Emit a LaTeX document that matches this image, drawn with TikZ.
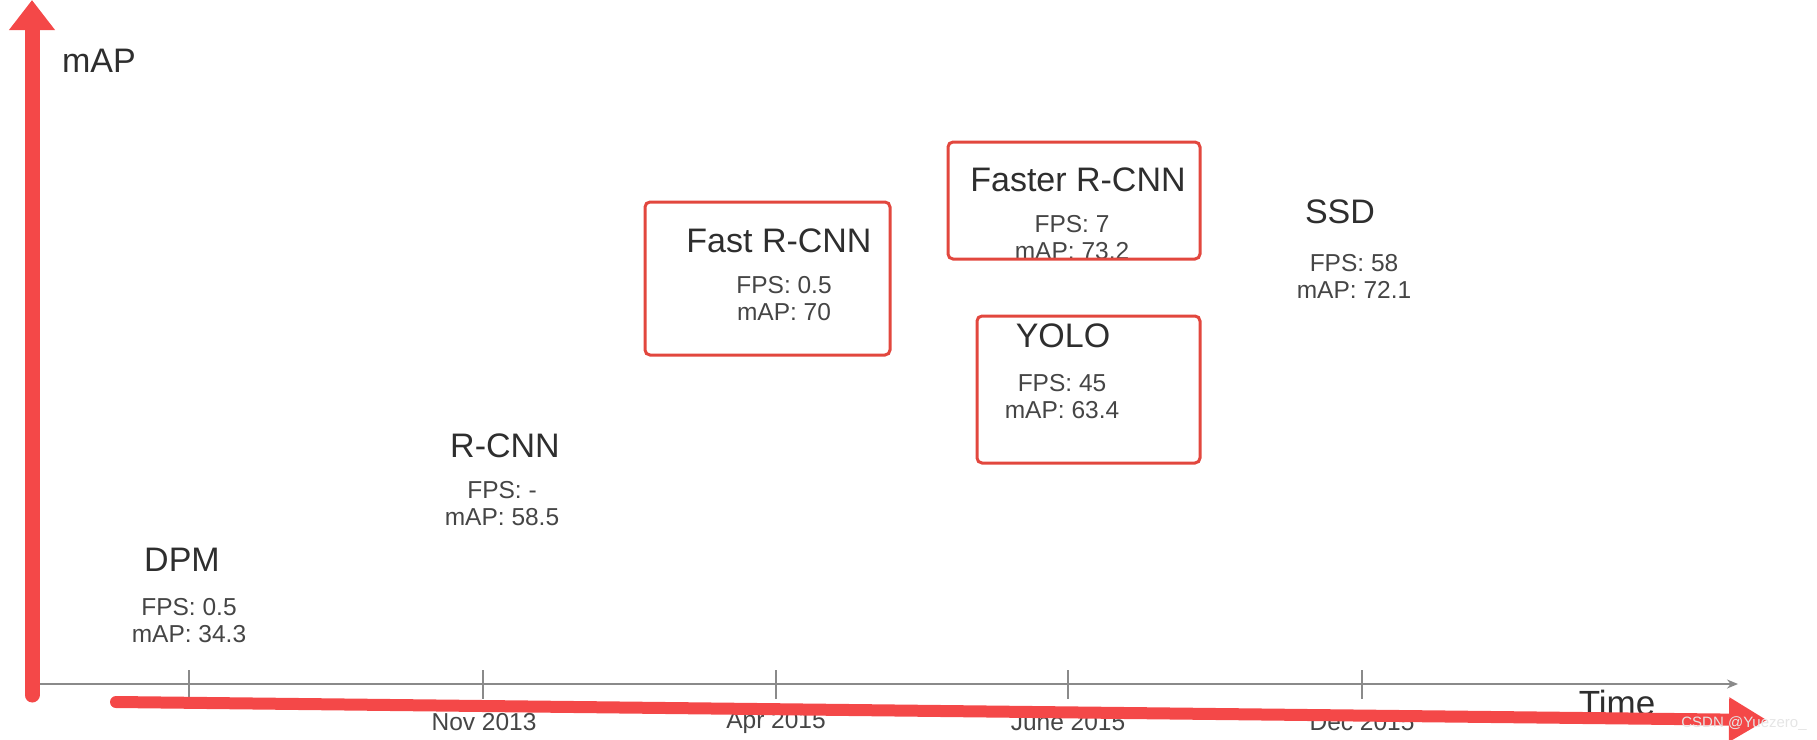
\documentclass[tikz,border=0pt]{standalone}
\usepackage{fontspec}
\setmainfont{Liberation Sans}
\usepackage{xcolor}
\usetikzlibrary{arrows.meta,positioning}
\definecolor{PenRed}{HTML}{F44848}
\definecolor{BoxRed}{HTML}{E2473E}
\definecolor{AxisGray}{HTML}{8A8A8A}
\definecolor{InkGray}{HTML}{2E2E2E}
\definecolor{StatGray}{HTML}{454545}

\begin{document}
\begin{tikzpicture}[
  x=1pt, y=-1pt,
  title/.style={inner sep=0pt, text=InkGray, font=\fontsize{34}{38}\selectfont},
  stats/.style={inner sep=0pt, align=center, text=StatGray, font=\fontsize{24.5}{27}\selectfont},
  datelbl/.style={inner sep=0pt, text=StatGray, font=\fontsize{24.5}{28}\selectfont},
  redbox/.style={draw=BoxRed, line width=3pt, rounded corners=5pt, inner sep=0pt},
  timeaxis/.style={draw=AxisGray, line width=1.6pt, -{Stealth[length=11pt,width=9pt]}},
  tickmark/.style={draw=AxisGray, line width=1.6pt},
  pen/.style={draw=PenRed, line cap=round}
]
\useasboundingbox (0,0) rectangle (1817,739);

% time axis with ticks
\coordinate (origin) at (35,684);
\coordinate (tend) at (1738,684);
\draw[timeaxis] (origin) -- (tend);
\foreach \x in {189,483,776,1068,1362}
  \draw[tickmark] (\x,670) -- (\x,699);

\node[datelbl] (nov) at (484,722) {Nov 2013};
\node[datelbl] (apr) at (776,722) {Apr 2015};
\node[datelbl] (june) at (1068,722) {June 2015};
\node[datelbl] (dec) at (1362,722) {Dec 2015};

\node[inner sep=0pt, text=InkGray, font=\fontsize{35}{40}\selectfont] (time) at (1617,703) {Time};
\node[inner sep=0pt, text=InkGray, font=\fontsize{34}{38}\selectfont] (map) at (99,61) {mAP};

% detectors
\node[title] (dpm) at (182,560) {DPM};
\node[stats] (dpmstats) at (189,621) {FPS: 0.5\\mAP: 34.3};

\node[title] (rcnn) at (505,446) {R-CNN};
\node[stats] (rcnnstats) at (502,504) {FPS: -\\mAP: 58.5};

\node[title] (fast) at (779,241) {Fast R-CNN};
\node[stats] (faststats) at (784,299) {FPS: 0.5\\mAP: 70};

\node[title] (faster) at (1078,180) {Faster R-CNN};
\node[stats] (fasterstats) at (1072,238) {FPS: 7\\mAP: 73.2};

\node[title] (yolo) at (1063,336) {YOLO};
\node[stats] (yolostats) at (1062,397) {FPS: 45\\mAP: 63.4};

\node[title] (ssd) at (1340,212) {SSD};
\node[stats] (ssdstats) at (1354,276) {FPS: 58\\mAP: 72.1};

% red marks
\node[redbox, minimum width=245pt, minimum height=153pt] (fastbox) at (767.5,278.5) {};
\node[redbox, minimum width=252pt, minimum height=117pt] (fasterbox) at (1074,200.5) {};
\node[redbox, minimum width=223pt, minimum height=147pt] (yolobox) at (1088.5,389.5) {};

\coordinate (ybot) at (32,695);
\coordinate (ytop) at (32,0);
\draw[pen, line width=15pt, -{Triangle[length=30pt,width=44pt]}] (ybot) -- (ytop);

\coordinate (xstart) at (116,702);
\coordinate (xtip) at (1767,720);
\draw[pen, line width=12pt, -{Triangle[length=38pt,width=42pt]}] (xstart) -- (xtip);

\node[inner sep=0pt, text=white!80!gray, font=\fontsize{15}{16}\selectfont] (mark) at (1744,724) {CSDN @Yuezero\_};
\end{tikzpicture}
\end{document}
